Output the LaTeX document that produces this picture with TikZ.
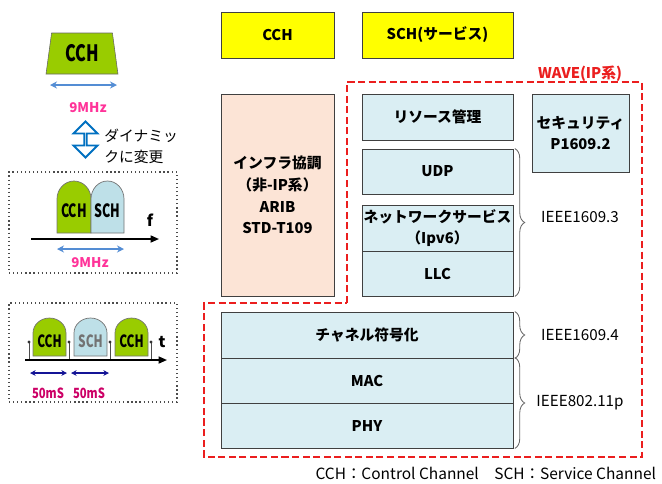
\documentclass[tikz,border=0pt]{standalone}
\usepackage{fontspec}
\setmainfont{Noto Sans CJK JP}
\usetikzlibrary{shapes.geometric,shapes.arrows,arrows.meta,decorations.pathreplacing}
\definecolor{cYellow}{RGB}{255,255,0}
\definecolor{cPeach}{RGB}{252,228,214}
\definecolor{cLight}{RGB}{218,238,243}
\definecolor{cLime}{RGB}{153,204,0}
\definecolor{cHump}{RGB}{190,224,232}
\definecolor{cPink}{RGB}{255,51,153}
\definecolor{cMagenta}{RGB}{204,0,102}
\definecolor{cSteel}{RGB}{84,141,212}
\definecolor{cArrow}{RGB}{0,112,192}
\definecolor{cNavy}{RGB}{20,20,150}
\definecolor{cRed}{RGB}{235,30,30}
\newcommand{\pxl}{0.025cm}
\newcommand{\narrow}[2][0.72]{\scalebox{#1}[1]{#2}}
\tikzset{
  basebox/.style={rectangle,draw=black!75,line width=0.6pt,align=center,inner sep=1pt,
                  font=\fontsize{10.5}{15.5}\selectfont\bfseries},
  boxsize/.style 2 args={minimum width=#1*\pxl,minimum height=#2*\pxl},
  yellownode/.style={basebox,fill=cYellow},
  peachnode/.style={basebox,fill=cPeach},
  bluenode/.style={basebox,fill=cLight},
  framebox/.style={draw=black!70,dotted,line width=0.9pt},
  hump/.style={draw=black!55,line width=0.5pt},
  humptext/.style={inner sep=0pt,font=\fontsize{13}{13}\selectfont\bfseries},
  bwarr/.style={{Stealth[length=5pt,width=5pt]}-{Stealth[length=5pt,width=5pt]},line width=1.2pt,color=cSteel},
  navyarr/.style={{Stealth[length=4pt,width=4pt]}-{Stealth[length=4pt,width=4pt]},line width=0.8pt,color=cNavy},
  axisarr/.style={-{Triangle[length=6pt,width=5pt]},line width=1.1pt},
  bracestyle/.style={decorate,decoration={brace,amplitude=7pt,raise=1pt},draw=black!60,line width=0.6pt},
  stdlabel/.style={font=\fontsize{10.8}{12}\selectfont},
  bwlabel/.style={text=cPink,font=\fontsize{9.5}{9.5}\selectfont\bfseries},
  wavebox/.style={draw=cRed,line width=1.5pt,dash pattern=on 5pt off 2.5pt}
}

\begin{document}
\begin{tikzpicture}[x=0.025cm,y=-0.025cm]
  \useasboundingbox (0,0) rectangle (662,483);

  % left: channel band and its width
  \node[trapezium,trapezium stretches=true,trapezium left angle=80,trapezium right angle=80,
        draw=black!60,fill=cLime,boxsize={72}{41},inner sep=0pt] (cchband) at (82,53.5)
        {\fontsize{16}{16}\selectfont\bfseries\narrow{CCH}};
  \coordinate (bwL) at (50,85);
  \coordinate (bwR) at (117,85);
  \draw[bwarr] (bwL) -- (bwR);
  \node[bwlabel] (bw) at (88,107.5) {9MHz};
  \node[double arrow,rotate=90,draw=cArrow,fill=white,line width=1.3pt,inner sep=0pt,
        minimum height=36*\pxl,minimum width=24*\pxl,double arrow head extend=8*\pxl] (dyn) at (85.5,139.5) {};
  \node[anchor=west,align=left,inner sep=0pt,font=\fontsize{10.5}{15}\selectfont] (dyntext) at (104,146)
        {ダイナミッ\\クに変更};

  % frequency view
  \node[framebox,boxsize={168}{101}] (fbox) at (93,222.5) {};
  \draw[hump,fill=cLime] (57,233) -- (57,199) arc[start angle=180,end angle=0,x radius=17*\pxl,y radius=18*\pxl] -- (91,233) -- cycle;
  \draw[hump,fill=cHump] (91,233) -- (91,199) arc[start angle=180,end angle=0,x radius=16.5*\pxl,y radius=18*\pxl] -- (124,233) -- cycle;
  \node[humptext] (fcch) at (74,211) {\narrow[0.68]{CCH}};
  \node[humptext] (fsch) at (107.5,211) {\narrow[0.68]{SCH}};
  \coordinate (fa0) at (31,239);
  \coordinate (fa1) at (159,239);
  \draw[axisarr] (fa0) -- (fa1);
  \node[font=\fontsize{11}{11}\selectfont\bfseries] (flbl) at (150,220) {f};
  \coordinate (fbL) at (57,249);
  \coordinate (fbR) at (124,249);
  \draw[bwarr] (fbL) -- (fbR);
  \node[bwlabel] (fbw) at (90,263) {9MHz};

  % time view
  \node[framebox,boxsize={168}{99}] (tbox) at (93,352.5) {};
  \foreach \x/\col/\lbl/\tc in {33/cLime/CCH/black, 74/cHump/SCH/black!55, 115/cLime/CCH/black}{
    \draw[hump,fill=\col] (\x,356) -- (\x,333) arc[start angle=180,end angle=0,x radius=16.5*\pxl,y radius=15*\pxl] -- (\x+33,356) -- cycle;
    \node[humptext,text=\tc,font=\fontsize{12}{12}\selectfont\bfseries] at (\x+16.5,341) {\narrow[0.7]{\lbl}};
  }
  \foreach \x in {29,69,110,151}{
    \draw[black!70,line width=0.6pt] (\x,342) -- (\x,360);
    \fill[black!80] (\x,342) circle[radius=1.2pt];
  }
  \coordinate (ta0) at (25,360);
  \coordinate (ta1) at (167,360);
  \draw[axisarr] (ta0) -- (ta1);
  \node[font=\fontsize{11}{11}\selectfont\bfseries] (tlbl) at (162,342) {t};
  \coordinate (t0) at (30,373);
  \coordinate (t1) at (67,373);
  \coordinate (t2) at (71,373);
  \coordinate (t3) at (109,373);
  \draw[navyarr] (t0) -- (t1);
  \draw[navyarr] (t2) -- (t3);
  \node[text=cMagenta,font=\fontsize{10}{10}\selectfont\bfseries] (per1) at (48,393) {\narrow[0.8]{50mS}};
  \node[text=cMagenta,font=\fontsize{10}{10}\selectfont\bfseries] (per2) at (89,393) {\narrow[0.8]{50mS}};

  % right: protocol stack
  \draw[wavebox] (347,303) -- (347,82) -- (642,82) -- (642,457) -- (204,457) -- (204,303) -- cycle;
  \node[text=cRed,font=\fontsize{10.5}{10.5}\selectfont\bfseries,inner sep=0pt] (wave) at (580,74) {WAVE(IP系)};

  \node[yellownode,boxsize={113}{46}] (cchtop) at (277.5,35) {CCH};
  \node[yellownode,boxsize={151}{46}] (schtop) at (437.5,35) {SCH(サービス)};

  \node[peachnode,boxsize={113}{202}] (infra) at (277.5,195)
        {インフラ協調\\（非-IP系）\\ARIB\\STD-T109};
  \node[bluenode,boxsize={151}{46}] (res) at (437.5,117) {リソース管理};
  \node[bluenode,boxsize={97}{78}] (sec) at (580.5,133) {セキュリティ\\P1609.2};
  \node[bluenode,boxsize={151}{45}] (udp) at (437.5,171.5) {UDP};
  \node[bluenode,boxsize={151}{46}] (net) at (437.5,228) {ネットワークサービス\\（Ipv6）};
  \node[bluenode,boxsize={151}{45}] (llc) at (437.5,273.5) {LLC};
  \node[bluenode,boxsize={292}{46}] (chan) at (367,335) {チャネル符号化};
  \node[bluenode,boxsize={292}{45}] (mac) at (367,380.5) {MAC};
  \node[bluenode,boxsize={292}{45}] (phy) at (367,425.5) {PHY};

  \draw[bracestyle] (udp.north east) -- (llc.south east);
  \draw[bracestyle] (chan.north east) -- (chan.south east);
  \draw[bracestyle] (mac.north east) -- (phy.south east);
  \node[stdlabel] (std3) at (580,217) {IEEE1609.3};
  \node[stdlabel] (std4) at (580,335) {IEEE1609.4};
  \node[stdlabel] (std11) at (580,403) {IEEE802.11p};

  \node[font=\fontsize{11}{12}\selectfont,anchor=east] (legend) at (661,473)
        {CCH：Control Channel\quad SCH：Service Channel};
\end{tikzpicture}
\end{document}
